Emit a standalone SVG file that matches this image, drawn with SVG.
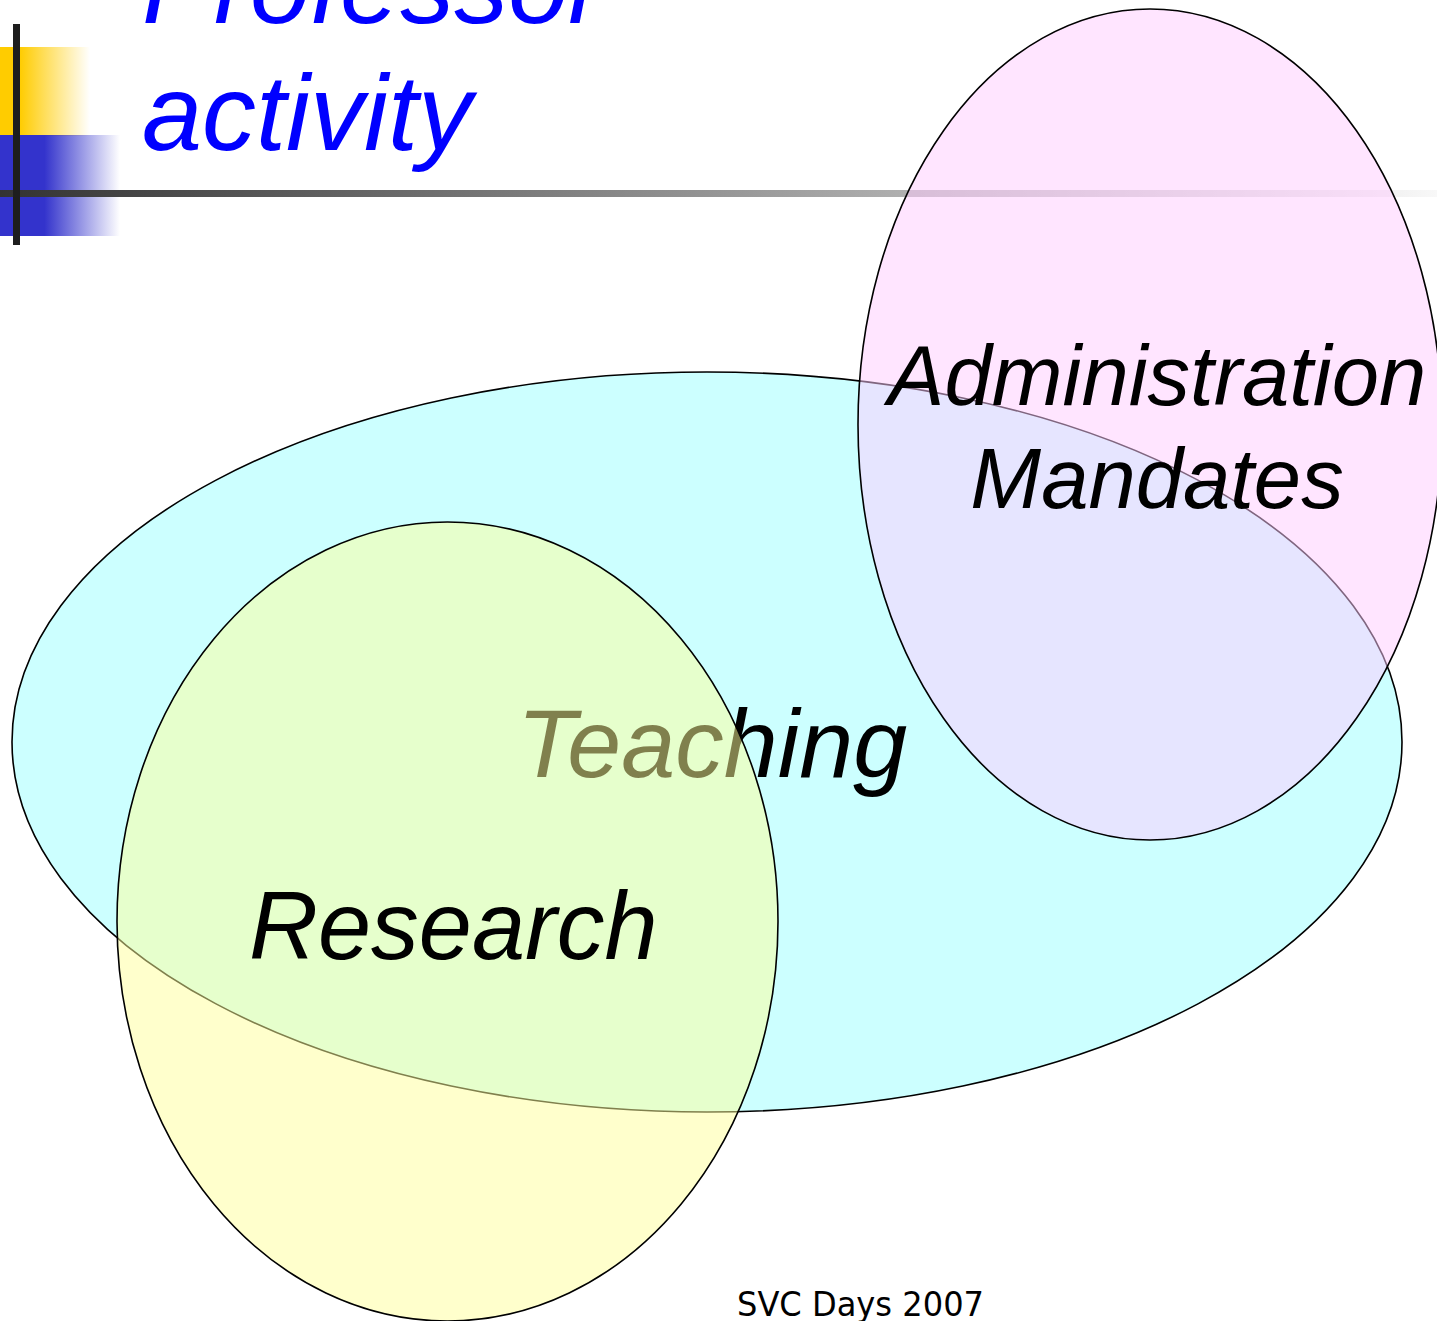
<svg xmlns="http://www.w3.org/2000/svg" width="1437" height="1321" viewBox="0 0 1437 1321">
  <defs>
    <linearGradient id="gYellow" x1="0" y1="0" x2="1" y2="0">
      <stop offset="0" stop-color="#FFCC00"/>
      <stop offset="0.22" stop-color="#FFCC00"/>
      <stop offset="1" stop-color="#FFCC00" stop-opacity="0"/>
    </linearGradient>
    <linearGradient id="gBlue" x1="0" y1="0" x2="1" y2="0">
      <stop offset="0" stop-color="#3333CC"/>
      <stop offset="0.37" stop-color="#3333CC"/>
      <stop offset="1" stop-color="#3333CC" stop-opacity="0"/>
    </linearGradient>
    <linearGradient id="gLine" x1="0" y1="0" x2="1" y2="0">
      <stop offset="0" stop-color="#333333"/>
      <stop offset="1" stop-color="#F8F8F8"/>
    </linearGradient>
    <style>
      .venn { stroke: #000; stroke-width: 1.6; }
      .lbl { font-family: "Liberation Sans", Arial, sans-serif; font-style: italic; fill: #000; }
      .title { font-family: "Liberation Sans", Arial, sans-serif; font-style: italic; fill: #0000FF; font-size: 108px; }
    </style>
  </defs>
  <rect width="1437" height="1321" fill="#FFFFFF"/>

  <g id="decoration">
    <rect x="0" y="47" width="90" height="89" fill="url(#gYellow)"/>
    <rect x="0" y="135" width="120" height="101" fill="url(#gBlue)"/>
    <rect x="0" y="190" width="1437" height="7" fill="url(#gLine)"/>
    <rect x="13" y="24" width="7" height="221" fill="#1E1E1E"/>
  </g>

  <g id="title">
    <text class="title" x="142" y="23">Professor</text>
    <text class="title" x="142" y="150">activity</text>
  </g>

  <g id="teaching">
    <ellipse class="venn" cx="707" cy="742" rx="695" ry="370" fill="#CCFFFF"/>
    <text class="lbl" x="517" y="777" font-size="97">Teaching</text>
  </g>

  <g id="administration">
    <ellipse class="venn" cx="1150" cy="424.5" rx="292" ry="415.5" fill="#FFCCFF" fill-opacity="0.5"/>
  </g>

  <g id="research">
    <ellipse class="venn" cx="447.5" cy="921.5" rx="330.5" ry="399.5" fill="#FFFF99" fill-opacity="0.5"/>
    <text class="lbl" x="249" y="959" font-size="95.5">Research</text>
  </g>

  <g id="administration-label">
    <text class="lbl" x="1157" y="405" font-size="85" text-anchor="middle">Administration</text>
    <text class="lbl" x="1157" y="508" font-size="85" text-anchor="middle">Mandates</text>
  </g>

  <g id="connectors"></g>

  <g id="footer">
    <text x="737" y="1316" font-family="DejaVu Sans, Verdana, sans-serif" font-size="34" textLength="247" lengthAdjust="spacingAndGlyphs" fill="#000">SVC Days 2007</text>
  </g>
</svg>
